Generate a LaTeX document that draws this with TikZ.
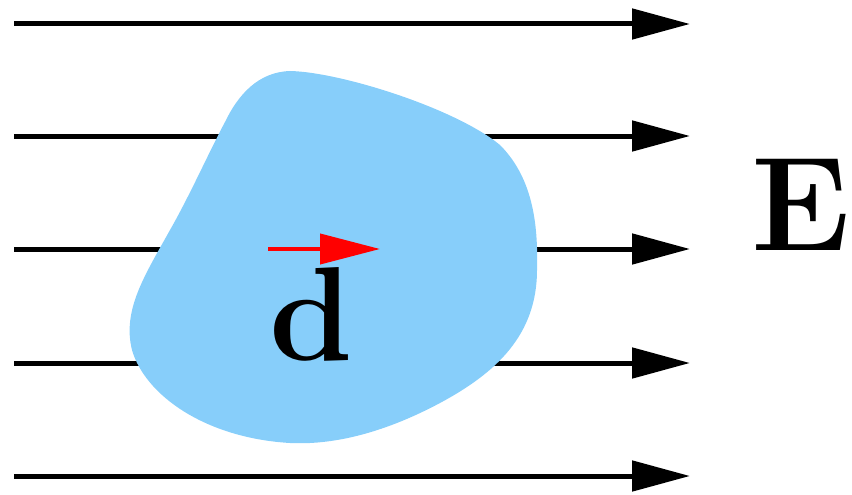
\documentclass[tikz,border=0pt]{standalone}
\usetikzlibrary{arrows.meta}

\definecolor{bodyblue}{HTML}{87CEFA}

\tikzset{
  fieldline/.style={line width=5pt, -{Triangle[length=58pt,width=30pt]}},
  dipole/.style={red, line width=4pt, -{Triangle[length=60pt,width=30pt]}},
  biglabel/.style={inner sep=0pt, anchor=base, font=\fontsize{134}{134}\selectfont\bfseries}
}

\begin{document}
\begin{tikzpicture}[x=1pt, y=-1pt]
    \useasboundingbox (0,0) rectangle (852,495);

    % Field lines
    \foreach \y [count=\i] in {24,136,249,363,476} {
        \coordinate (l\i) at (14,\y);
        \coordinate (r\i) at (690,\y);
        \draw[fieldline] (l\i) -- (r\i);
    }

    % Dielectric body
    \fill[bodyblue] (290,71)
        .. controls (340,72) and (455,108) .. (500,145)
        .. controls (535,180) and (538,230) .. (537,270)
        .. controls (537,335) and (496,373) .. (440,403)
        .. controls (380,435) and (330,445) .. (290,443)
        .. controls (205,438) and (145,395) .. (132,350)
        .. controls (122,310) and (145,275) .. (170,230)
        .. controls (190,195) and (210,150) .. (225,122)
        .. controls (238,95) and (258,72) .. (290,71) -- cycle;

    % Dipole moment
    \coordinate (d0) at (268,249);
    \coordinate (d1) at (380,249);
    \draw[dipole] (d0) -- (d1);

    \node[biglabel] (dlabel) at (311,360) {d};
    \node[biglabel] (elabel) at (801,250) {E};

\end{tikzpicture}
\end{document}
